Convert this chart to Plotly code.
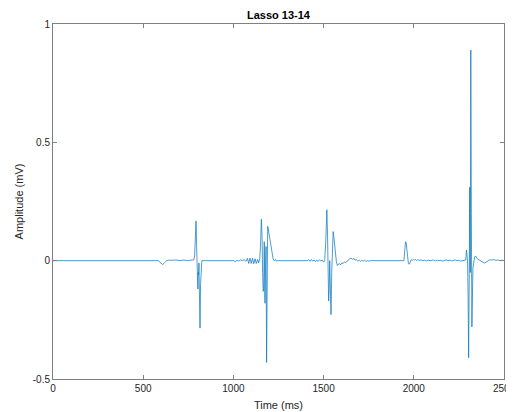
import plotly.graph_objects as go

# Signal samples (time in ms, amplitude in mV)
time_ms = [
    0, 585, 590, 600, 608, 615, 622, 630, 640, 650, 660, 670, 680, 690, 700,
    710, 720, 730, 740, 750, 760, 770, 780, 785, 790, 793, 796, 799, 801, 803,
    805, 807, 809, 811, 813, 815, 818, 821, 825,
    1000, 1010, 1020, 1030, 1040, 1050, 1060, 1070, 1078, 1085, 1092, 1099,
    1106, 1113, 1120, 1127, 1134, 1140, 1146, 1150, 1155, 1159, 1162, 1165,
    1168, 1171, 1173, 1175, 1178, 1181, 1184, 1187, 1190, 1194, 1198, 1203,
    1208, 1214, 1220, 1226, 1232, 1238, 1245,
    1410, 1418, 1425, 1432, 1440, 1448, 1455, 1462, 1470, 1478, 1485, 1492,
    1500, 1506, 1512, 1518, 1522, 1525, 1528, 1531, 1534, 1537, 1541, 1545,
    1549, 1553, 1557, 1561, 1566, 1571, 1576, 1582, 1588, 1594, 1600, 1608,
    1615, 1622, 1630, 1638, 1645, 1652, 1660, 1668, 1675, 1682, 1690, 1698,
    1705, 1712, 1720, 1728, 1735, 1742, 1750, 1760,
    1945, 1950, 1954, 1958, 1962, 1966, 1970, 1975, 1980, 1986, 1992, 1998,
    2004, 2010, 2016, 2022, 2030, 2040, 2050, 2060, 2070, 2080, 2090, 2100,
    2110, 2120, 2130, 2140, 2150, 2160, 2170, 2180, 2190, 2200, 2210, 2220,
    2230, 2240, 2250, 2260, 2270, 2280,
    2288, 2292, 2295, 2298, 2301, 2304, 2307, 2310, 2313, 2316, 2319, 2322,
    2325, 2328, 2332, 2337, 2342, 2348, 2355, 2362, 2370, 2378, 2386, 2394,
    2400, 2408, 2416, 2424, 2432, 2440, 2448, 2456, 2464, 2472, 2480, 2490,
    2500,
]
amplitude_mv = [
    0.0, 0.0, -0.005, -0.012, -0.016, -0.012, -0.004, 0.0, 0.002, 0.001, 0.003,
    0.002, 0.003, 0.001, 0.002, 0.0, 0.003, 0.001, 0.002, 0.0, 0.002, 0.001,
    0.003, 0.02, 0.10, 0.168, 0.06, -0.02, -0.08, -0.12, -0.05, -0.06, -0.01,
    -0.09, -0.2, -0.285, -0.1, -0.01, 0.0,
    0.0, -0.004, 0.002, -0.002, 0.003, 0.0, 0.004, -0.003, 0.01, -0.012, 0.011,
    -0.012, 0.01, -0.013, 0.008, -0.012, 0.005, -0.01, 0.01, 0.06, 0.175, 0.1,
    -0.05, -0.13, -0.12, 0.08, -0.05, -0.18, -0.02, 0.06, -0.43, 0.05, 0.145,
    0.13, 0.11, 0.08, 0.05, 0.025, 0.008, 0.0, 0.005, -0.002, 0.0,
    0.0, 0.004, -0.003, 0.005, -0.002, 0.003, -0.004, 0.002, -0.003, 0.004,
    -0.002, 0.003, -0.006, 0.0, 0.08, 0.215, 0.1, -0.05, -0.17, -0.12, 0.0,
    -0.1, -0.228, -0.05, 0.08, 0.123, 0.1, 0.06, 0.02, -0.005, -0.02, -0.015,
    -0.012, -0.018, -0.01, -0.012, -0.005, -0.008, 0.0, 0.003, 0.008, 0.01,
    0.006, 0.009, 0.002, 0.004, -0.002, 0.002, -0.003, 0.001, -0.002, 0.002,
    -0.003, 0.0, -0.002, 0.0,
    0.0, 0.06, 0.08, 0.075, 0.04, 0.0, -0.012, -0.015, -0.005, 0.004, 0.002,
    0.006, 0.003, 0.005, 0.001, 0.004, 0.002, 0.003, 0.0, 0.002, -0.001, 0.002,
    0.0, 0.001, 0.003, -0.001, 0.002, 0.0, 0.002, -0.002, 0.001, 0.003, 0.0,
    0.002, -0.001, 0.001, 0.003, 0.0, 0.002, -0.002, 0.001, 0.003,
    0.003, 0.045, 0.03, 0.0, -0.15, -0.41, -0.1, 0.31, -0.05, 0.89, 0.2, -0.28,
    -0.15, -0.03, 0.005, 0.015, 0.02, 0.012, 0.006, 0.003, -0.002, -0.005,
    -0.008, -0.01, -0.006, -0.002, 0.002, 0.004, 0.002, 0.005, 0.003, 0.001,
    0.003, 0.002, 0.0, 0.002, 0.0,
]

x_ticks = [0, 500, 1000, 1500, 2000, 2500]
x_tick_labels = ["0", "500", "1000", "1500", "2000", "2500"]
y_ticks = [-0.5, 0, 0.5, 1]
y_tick_labels = ["-0.5", "0", "0.5", "1"]

FONT = "Liberation Sans, Arial, Helvetica, sans-serif"
AXIS_COLOR = "#808080"
TEXT_COLOR = "#262626"

fig = go.Figure()
fig.add_trace(go.Scatter(
    x=time_ms, y=amplitude_mv, mode="lines",
    line=dict(color="#0072BD", width=0.7),
    showlegend=False, hoverinfo="skip",
))

axis_common = dict(
    showgrid=False, zeroline=False, showline=True, linecolor=AXIS_COLOR,
    linewidth=1, mirror="ticks", ticks="inside", ticklen=4,
    tickcolor=AXIS_COLOR, tickwidth=1,
    tickfont=dict(family=FONT, size=10, color=TEXT_COLOR),
)

# page body has an 8px margin, so the figure sits 8px right/down of the window origin
fig.update_layout(
    width=514, height=412,
    margin=dict(l=45, r=18, t=16, b=41, autoexpand=False),
    paper_bgcolor="white", plot_bgcolor="white",
    title=dict(
        text="<b>Lasso 13-14</b>", x=270.5 / 514, xanchor="center",
        y=1 - 7 / 412, yanchor="middle", yref="container",
        font=dict(family=FONT, size=11, color="#000000"),
    ),
    xaxis=dict(
        range=[0, 2500], tickvals=x_ticks, ticktext=x_tick_labels,
        title=dict(text="Time (ms)", standoff=8,
                   font=dict(family=FONT, size=11, color=TEXT_COLOR)),
        **axis_common,
    ),
    yaxis=dict(
        range=[-0.5, 1], tickvals=y_ticks, ticktext=y_tick_labels,
        title=dict(text="Amplitude (mV)", standoff=6,
                   font=dict(family=FONT, size=11, color=TEXT_COLOR)),
        **axis_common,
    ),
)

fig.write_html("out.html")
